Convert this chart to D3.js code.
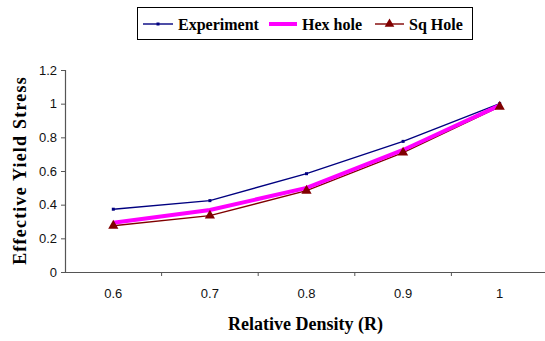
<!DOCTYPE html>
<html><head><meta charset="utf-8">
<script src="https://cdn.jsdelivr.net/npm/d3@7"></script>
<style>body{margin:0;background:#fff}</style>
</head><body>
<script>
const categories = ["0.6","0.7","0.8","0.9","1"];
const experiment = [0.373, 0.424, 0.584, 0.776, 1.0];
const hexHole = [0.293, 0.368, 0.50, 0.725, 0.99];
const sqHole = [0.275, 0.335, 0.483, 0.709, 0.982];
const yTicks = [0, 0.2, 0.4, 0.6, 0.8, 1, 1.2];

const W = 545, H = 341;
const svg = d3.select("body").append("svg").attr("width", W).attr("height", H);
const mLeft = 65, mRight = 548, mTop = 70, mBottom = 272;

const x = d3.scaleBand().domain(categories).range([mLeft, mRight]);
const y = d3.scaleLinear().domain([0, 1.2]).range([mBottom, mTop]);
const cx = c => x(c) + x.bandwidth()/2;

// axes
const yAxis = svg.append("g").attr("transform", `translate(${mLeft},0)`)
  .call(d3.axisLeft(y).tickValues(yTicks).tickSize(4).tickPadding(4).tickFormat(d => d3.format("")(d)));
const xAxis = svg.append("g").attr("transform", `translate(0,${mBottom})`)
  .call(d3.axisBottom(x).tickSize(0).tickPadding(17));
[yAxis, xAxis].forEach(g => {
  g.select(".domain").attr("stroke", "#555").attr("stroke-width", 1.2);
  g.selectAll("line").attr("stroke", "#555");
  g.selectAll("text").attr("font-family", "Liberation Sans, Arial, sans-serif").attr("font-size", 13).attr("fill", "#111");
});
// category boundary ticks
xAxis.selectAll(".bt").data(categories.slice(1)).enter().append("line")
  .attr("x1", d => x(d)).attr("x2", d => x(d)).attr("y1", 0).attr("y2", 4).attr("stroke", "#555");

const line = d3.line().x((d,i) => cx(categories[i])).y(d => y(d));

svg.append("path").datum(experiment).attr("d", line).attr("fill","none").attr("stroke","#000080").attr("stroke-width",1.4);
svg.selectAll(".em").data(experiment).enter().append("rect")
  .attr("x",(d,i)=>cx(categories[i])-1.5).attr("y",d=>y(d)-1.5).attr("width",3).attr("height",3).attr("fill","#000080");

svg.append("path").datum(sqHole).attr("d", line).attr("fill","none").attr("stroke","#800000").attr("stroke-width",1.4);
svg.append("path").datum(hexHole).attr("d", line).attr("fill","none").attr("stroke","#FF00FF").attr("stroke-width",4);

const tri = d3.symbol().type(d3.symbolTriangle).size(45);
svg.selectAll(".sm").data(sqHole).enter().append("path").attr("d", tri)
  .attr("transform",(d,i)=>`translate(${cx(categories[i])},${y(d)})`).attr("fill","#800000");

// axis titles
svg.append("text").attr("x", 305.5).attr("y", 330).attr("text-anchor","middle")
  .attr("font-family","Liberation Serif, Times New Roman, serif").attr("font-weight","bold").attr("font-size",18)
  .text("Relative Density (R)");
svg.append("text").attr("transform","translate(26,170.5) rotate(-90)").attr("text-anchor","middle")
  .attr("font-family","Liberation Serif, Times New Roman, serif").attr("font-weight","bold").attr("font-size",18)
  .attr("letter-spacing", 1.2)
  .text("Effective Yield Stress");

// legend
const lg = svg.append("g");
lg.append("rect").attr("x",137.5).attr("y",7.5).attr("width",335).attr("height",32).attr("fill","#fff").attr("stroke","#000").attr("stroke-width",1);
const items = [
  {name:"Experiment", x1:143, x2:173, tx:178, color:"#000080", w:1.4, mk:"sq"},
  {name:"Hex hole", x1:269, x2:297, tx:302, color:"#FF00FF", w:4, mk:null},
  {name:"Sq Hole", x1:375, x2:404, tx:409, color:"#800000", w:1.4, mk:"tri"}
];
items.forEach(it => {
  lg.append("line").attr("x1",it.x1).attr("x2",it.x2).attr("y1",24).attr("y2",24).attr("stroke",it.color).attr("stroke-width",it.w);
  const mx = (it.x1+it.x2)/2;
  if (it.mk==="sq") lg.append("rect").attr("x",mx-1.5).attr("y",22.5).attr("width",3).attr("height",3).attr("fill",it.color);
  if (it.mk==="tri") lg.append("path").attr("d",d3.symbol().type(d3.symbolTriangle).size(40)).attr("transform",`translate(${mx},24)`).attr("fill",it.color);
  lg.append("text").attr("x",it.tx).attr("y",30).attr("font-family","Liberation Serif, Times New Roman, serif")
    .attr("font-weight","bold").attr("font-size",16).text(it.name);
});
</script>
</body></html>
